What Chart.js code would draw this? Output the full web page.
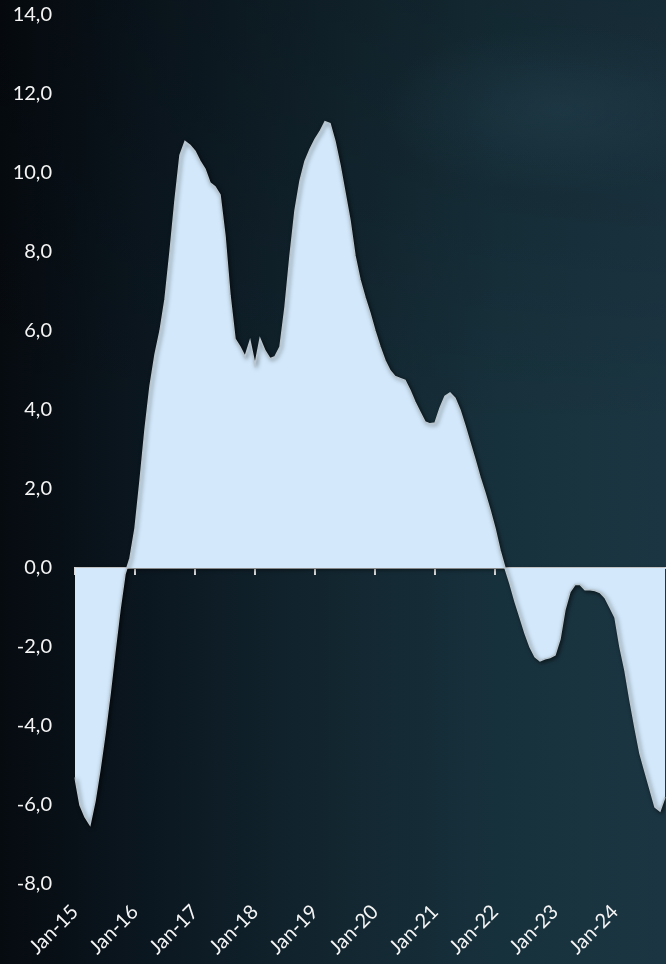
<!DOCTYPE html>
<html>
<head>
<meta charset="utf-8">
<script src="https://cdn.jsdelivr.net/npm/chart.js@4.4.1/dist/chart.umd.min.js"></script>
<style>
  html, body { margin: 0; padding: 0; width: 666px; height: 964px; overflow: hidden; }
  body {
    background:
      radial-gradient(ellipse 260px 120px at 560px 110px, rgba(45, 78, 95, 0.30), rgba(45, 78, 95, 0) 70%),
      linear-gradient(180deg, rgba(0, 0, 0, 0.18) 0%, rgba(0, 0, 0, 0) 45%),
      linear-gradient(90deg, #060b10 0%, #0b1720 22%, #12252f 48%, #17313c 75%, #1b3542 100%);
  }
  #wrap { position: relative; width: 666px; height: 964px; }
  canvas { display: block; }
</style>
</head>
<body>
<div id="wrap"><canvas id="chart" width="666" height="964"></canvas></div>
<script>
// Monthly series, Jan-15 to Nov-24 (percent, year over year)
const MONTHS = ['Jan', 'Feb', 'Mar', 'Apr', 'May', 'Jun', 'Jul', 'Aug', 'Sep', 'Oct', 'Nov', 'Dec'];
const FIRST_YEAR = 15;

const VALUES = [
  -5.3, -6.0, -6.3, -6.5, -5.9, -5.1, -4.2, -3.2, -2.1, -1.05, -0.15, 0.25,      // 2015
  1.0, 2.2, 3.5, 4.6, 5.4, 6.0, 6.8, 8.0, 9.3, 10.45, 10.8, 10.7,                // 2016
  10.55, 10.3, 10.1, 9.75, 9.65, 9.45, 8.4, 6.9, 5.8, 5.6, 5.35, 5.75,           // 2017
  5.15, 5.8, 5.5, 5.3, 5.35, 5.6, 6.6, 7.9, 9.05, 9.8, 10.3, 10.6,               // 2018
  10.85, 11.05, 11.3, 11.25, 10.8, 10.2, 9.5, 8.8, 7.9, 7.3, 6.85, 6.45,         // 2019
  6.0, 5.6, 5.25, 5.0, 4.85, 4.8, 4.75, 4.5, 4.2, 3.95, 3.7, 3.65,               // 2020
  3.67, 4.05, 4.35, 4.43, 4.3, 4.0, 3.6, 3.17, 2.75, 2.3, 1.9, 1.47,             // 2021
  1.0, 0.45, 0.0, -0.4, -0.85, -1.25, -1.65, -2.0, -2.25, -2.35, -2.3, -2.27,    // 2022
  -2.2, -1.8, -1.05, -0.6, -0.42, -0.42, -0.55, -0.55, -0.57, -0.62, -0.75, -1.0, // 2023
  -1.25, -2.0, -2.6, -3.35, -4.05, -4.7, -5.15, -5.6, -6.05, -6.15, -5.8         // 2024
];

const YEAR_TICKS = ['Jan-15', 'Jan-16', 'Jan-17', 'Jan-18', 'Jan-19', 'Jan-20', 'Jan-21', 'Jan-22', 'Jan-23', 'Jan-24'];

const Y_MIN = -8;
const Y_MAX = 14;
const Y_STEP = 2;

// Category labels "Mmm-YY" for each monthly value
const LABELS = VALUES.map((_, i) => MONTHS[i % 12] + '-' + String(FIRST_YEAR + Math.floor(i / 12)));

const TEXT = '#f4f4f4';
const AXIS = '#d6d6d6';
const FONT = { family: 'Lato, "Open Sans", sans-serif', size: 20 };

// Keep the plot area fixed: no extra padding from rotated or edge labels
function noEdgePadding(scale) {
  scale.paddingLeft = 0;
  scale.paddingRight = 0;
  scale.paddingTop = 0;
  scale.paddingBottom = 0;
}

// Soft drop shadow under the filled area and its outline
const areaShadow = {
  id: 'areaShadow',
  beforeDatasetsDraw(chart) {
    const c = chart.ctx;
    c.save();
    c.shadowColor = 'rgba(0, 0, 0, 0.55)';
    c.shadowBlur = 4;
    c.shadowOffsetX = 1.5;
    c.shadowOffsetY = 1.5;
  },
  afterDatasetsDraw(chart) {
    chart.ctx.restore();
  }
};

new Chart(document.getElementById('chart'), {
  type: 'line',
  data: {
    labels: LABELS,
    datasets: [{
      data: VALUES,
      xAxisID: 'x',
      yAxisID: 'y',
      fill: 'origin',
      backgroundColor: '#d3e9fb',
      borderColor: '#b9c6cf',
      borderWidth: 1.5,
      tension: 0,
      pointRadius: 0,
      pointHoverRadius: 0
    }]
  },
  options: {
    responsive: false,
    animation: false,
    devicePixelRatio: 1,
    layout: { padding: { top: 15, right: 1, bottom: 0, left: 0 } },
    plugins: {
      legend: { display: false },
      tooltip: { enabled: false }
    },
    scales: {
      x: {
        type: 'category',
        position: 'bottom',
        offset: false,
        grid: { display: false, drawTicks: false },
        border: { display: false },
        ticks: {
          autoSkip: false,
          minRotation: 45,
          maxRotation: 45,
          padding: 16,
          color: TEXT,
          font: FONT,
          callback(value) {
            const label = this.getLabelForValue(value);
            return YEAR_TICKS.includes(label) ? label : '';
          }
        },
        afterFit(scale) {
          scale.height = 80;
          noEdgePadding(scale);
        }
      },
      // Horizontal axis line with yearly tick marks, crossing at zero
      x0: {
        type: 'category',
        labels: LABELS,
        position: { y: 0 },
        offset: false,
        z: 1,
        grid: {
          drawOnChartArea: false,
          drawTicks: true,
          tickLength: 6,
          lineWidth: 2,
          color: (ctx) => (ctx.index % 12 === 0 ? AXIS : 'rgba(0,0,0,0)')
        },
        border: { display: true, color: AXIS, width: 2 },
        ticks: { display: false, autoSkip: false },
        afterFit: noEdgePadding
      },
      y: {
        type: 'linear',
        position: 'left',
        min: Y_MIN,
        max: Y_MAX,
        grid: { display: false, drawTicks: false },
        border: { display: false },
        ticks: {
          stepSize: Y_STEP,
          padding: 23,
          color: TEXT,
          font: FONT,
          callback: (v) => v.toFixed(1).replace('.', ',')
        },
        afterFit(scale) {
          scale.width = 75;
          noEdgePadding(scale);
        }
      }
    }
  },
  plugins: [areaShadow]
});
</script>
</body>
</html>
